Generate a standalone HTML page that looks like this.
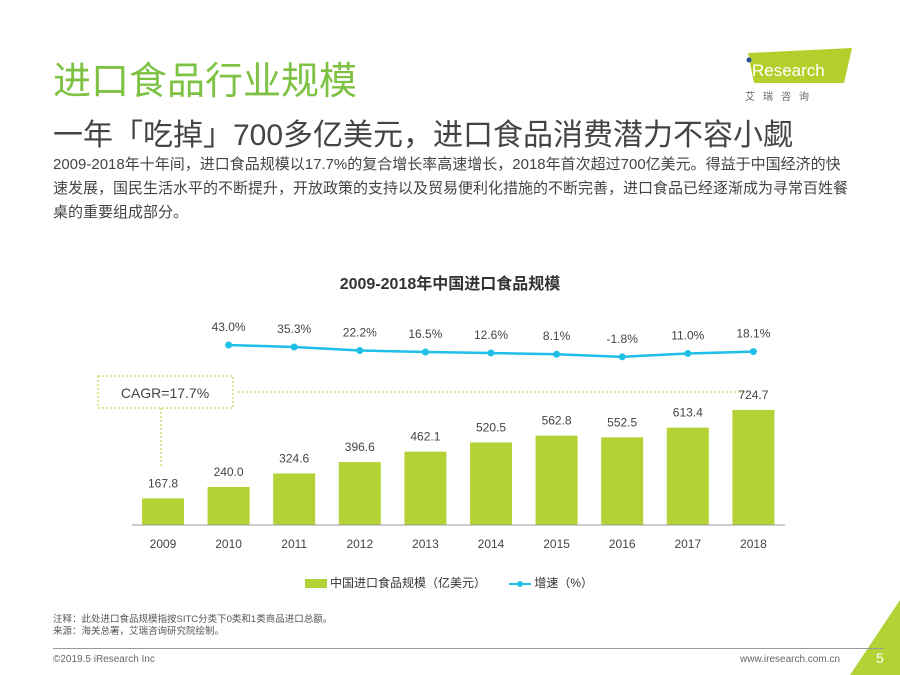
<!DOCTYPE html>
<html><head><meta charset="utf-8">
<style>
body{margin:0;width:900px;height:675px;background:#fff;overflow:hidden;position:relative;font-family:"Liberation Sans","Noto Sans CJK SC",sans-serif;}
.a{position:absolute;white-space:nowrap;}
</style></head><body>
<div class="a" style="left:53px;top:50px;font-size:38px;color:#7dc243;">进口食品行业规模</div>
<div class="a" style="left:740px;top:48px;width:120px;height:50px;">
<svg width="120" height="60"><polygon points="8,5 112,0 104,35 14,35" fill="#b3cf2b"/><circle cx="9" cy="12" r="2.5" fill="#2a4d9b"/><text x="12" y="28" font-size="17" fill="#fff" font-family="Liberation Sans">Research</text><text x="5" y="52" font-size="10" fill="#666" letter-spacing="8">艾瑞咨询</text></svg></div>
<div class="a" style="left:53px;top:110px;font-size:30px;color:#444;">一年「吃掉」700多亿美元，进口食品消费潜力不容小觑</div>
<div class="a" style="left:53px;top:153px;font-size:15px;line-height:24px;color:#444;">2009-2018年十年间，进口食品规模以17.7%的复合增长率高速增长，2018年首次超过700亿美元。得益于中国经济的快<br>速发展，国民生活水平的不断提升，开放政策的支持以及贸易便利化措施的不断完善，进口食品已经逐渐成为寻常百姓餐<br>桌的重要组成部分。</div>
<div class="a" style="left:0;width:900px;text-align:center;top:270px;font-size:16px;font-weight:bold;color:#333;">2009-2018年中国进口食品规模</div>
<svg id="chart" class="a" style="left:0;top:0" width="900" height="675"></svg>
<div class="a" style="left:305px;top:574px;font-size:12px;color:#333;">
<span><span style="display:inline-block;width:22px;height:9px;background:#b3d235;vertical-align:middle;margin-right:3px"></span>中国进口食品规模（亿美元）</span>
<span style="margin-left:20px;"><span style="display:inline-block;width:22px;height:2px;background:#1fbfe8;vertical-align:middle;margin-right:3px;position:relative"><span style="position:absolute;left:8px;top:-2px;width:6px;height:6px;border-radius:50%;background:#1fbfe8"></span></span>增速（%）</span></div>
<div class="a" style="left:53px;top:614px;font-size:9.5px;line-height:12px;color:#555;">注释：此处进口食品规模指按SITC分类下0类和1类商品进口总额。<br>来源：海关总署，艾瑞咨询研究院绘制。</div>
<div class="a" style="left:53px;top:648px;width:830px;height:1px;background:#999;"></div>
<div class="a" style="left:53px;top:654px;font-size:10px;color:#666;">©2019.5 iResearch Inc</div>
<div class="a" style="left:740px;top:654px;font-size:10px;color:#666;">www.iresearch.com.cn</div>
<div class="a" style="left:876px;top:650px;font-size:14px;color:#fff;">5</div>
<script>
const years=["2009","2010","2011","2012","2013","2014","2015","2016","2017","2018"];
const scale=[167.8,240.0,324.6,396.6,462.1,520.5,562.8,552.5,613.4,724.7];
const growthYears=["2010","2011","2012","2013","2014","2015","2016","2017","2018"];
const growth=[43.0,35.3,22.2,16.5,12.6,8.1,-1.8,11.0,18.1];
const NS="http://www.w3.org/2000/svg";
const svg=document.getElementById('chart');
function xOf(i){return 163+65.6*i;}
function yBar(v){return 525-v*0.1587;}
function yLine(v){return 345+(43-v)*0.264;}
function mk(t,a){const e=document.createElementNS(NS,t);for(const k in a)e.setAttribute(k,a[k]);svg.appendChild(e);return e;}
let e;
e=mk('polygon',{points:"850,675 900,600 900,675",fill:"#b3d235"});


e=mk('rect',{x:98,y:376,width:135,height:32,fill:"none",stroke:"#b3d235","stroke-dasharray":"2,2"});


e=mk('text',{x:165,y:398,"text-anchor":"middle","font-size":14,fill:"#444"});e.textContent="CAGR=17.7%";


e=mk('line',{x1:161,y1:408,x2:161,y2:468,stroke:"#b3d235","stroke-dasharray":"2,2"});


e=mk('line',{x1:238,y1:392,x2:748,y2:392,stroke:"#b3d235","stroke-dasharray":"2,2"});


scale.forEach((v,i)=>{
 const b=mk('rect',{x:xOf(i)-21,y:yBar(v),width:42,height:525-yBar(v),fill:"#b3d235"});
 
 
 const t=mk('text',{x:xOf(i),y:yBar(v)-11,"text-anchor":"middle","font-size":12,fill:"#444"});t.textContent=v.toFixed(1);
 
 
 const l=mk('text',{x:xOf(i),y:548,"text-anchor":"middle","font-size":12,fill:"#444"});l.textContent=years[i];
 
 
});
e=mk('line',{x1:132,y1:525,x2:785,y2:525,stroke:"#999"});


const pts=growth.map((v,i)=>xOf(i+1)+','+yLine(v)).join(' ');
e=mk('polyline',{points:pts,fill:"none",stroke:"#1fbfe8","stroke-width":2.5});


growth.forEach((v,i)=>{
 const c=mk('circle',{cx:xOf(i+1),cy:yLine(v),r:3.5,fill:"#1fbfe8"});
 
 
 const t=mk('text',{x:xOf(i+1),y:yLine(v)-14,"text-anchor":"middle","font-size":12,fill:"#444"});t.textContent=v.toFixed(1)+'%';
 
 
});
</script>
</body></html>
